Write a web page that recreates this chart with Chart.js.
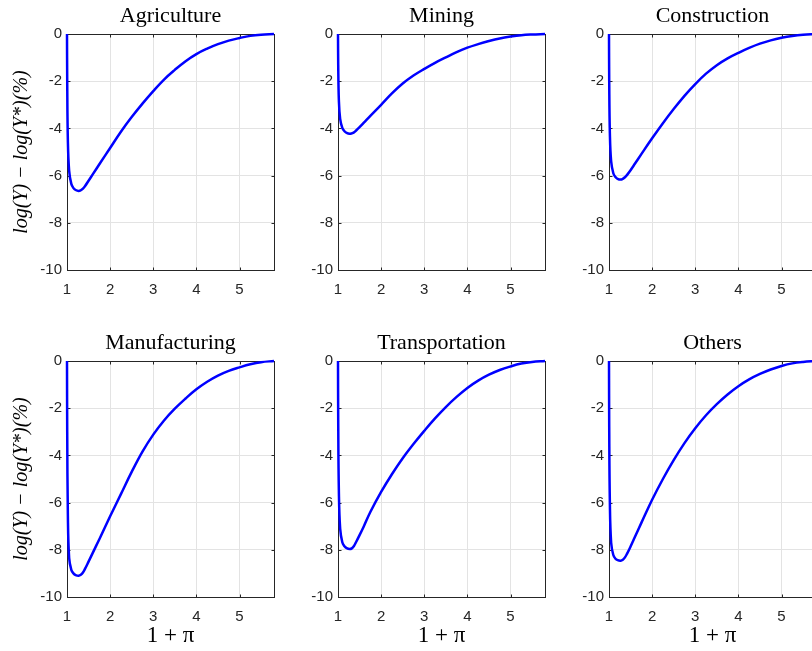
<!DOCTYPE html>
<html>
<head>
<meta charset="utf-8">
<script src="https://cdn.jsdelivr.net/npm/chart.js@4"></script>
<style>
  html, body { margin: 0; padding: 0; background: #fff; }
  body { width: 812px; height: 651px; position: relative; overflow: hidden; }
  canvas { position: absolute; }
</style>
</head>
<body>
<script>
// 1 + pi grid shared by every sector
const piGrid = [1.0, 1.005, 1.02, 1.05, 1.1, 1.15, 1.2, 1.27, 1.32, 1.37, 1.42, 1.5, 1.6, 1.75, 2.0, 2.25, 2.5, 2.75, 3.0, 3.25, 3.5, 3.75, 4.0, 4.25, 4.5, 4.75, 5.0, 5.25, 5.5, 5.8];

// output gap log(Y) - log(Y*) in percent, per sector
const agriculture    = [0, -2.0, -4.5, -5.8, -6.35, -6.53, -6.61, -6.65, -6.62, -6.55, -6.44, -6.22, -5.94, -5.52, -4.83, -4.14, -3.52, -2.95, -2.42, -1.93, -1.52, -1.15, -0.85, -0.62, -0.43, -0.28, -0.17, -0.08, -0.03, 0];
const mining         = [0, -1.3, -2.8, -3.6, -3.98, -4.12, -4.19, -4.23, -4.21, -4.17, -4.09, -3.95, -3.76, -3.47, -3.0, -2.52, -2.1, -1.76, -1.48, -1.22, -0.99, -0.77, -0.58, -0.43, -0.3, -0.19, -0.11, -0.05, -0.02, 0];
const construction   = [0, -2.0, -4.2, -5.4, -5.9, -6.06, -6.14, -6.17, -6.14, -6.07, -5.97, -5.77, -5.5, -5.09, -4.42, -3.78, -3.18, -2.62, -2.12, -1.68, -1.32, -1.03, -0.8, -0.59, -0.41, -0.27, -0.16, -0.08, -0.03, 0];
const manufacturing  = [0, -3.0, -6.5, -8.35, -8.85, -9.0, -9.07, -9.1, -9.06, -8.96, -8.8, -8.5, -8.12, -7.55, -6.58, -5.64, -4.7, -3.84, -3.12, -2.52, -2.02, -1.59, -1.2, -0.88, -0.62, -0.42, -0.27, -0.14, -0.05, 0];
const transportation = [0, -2.5, -5.5, -7.1, -7.68, -7.85, -7.93, -7.97, -7.94, -7.84, -7.67, -7.38, -7.0, -6.4, -5.55, -4.8, -4.12, -3.52, -2.96, -2.43, -1.95, -1.52, -1.14, -0.83, -0.58, -0.38, -0.23, -0.11, -0.04, 0];
const others         = [0, -2.8, -6.0, -7.7, -8.22, -8.38, -8.44, -8.46, -8.42, -8.32, -8.16, -7.86, -7.46, -6.86, -5.88, -5.0, -4.2, -3.48, -2.85, -2.3, -1.83, -1.42, -1.07, -0.78, -0.55, -0.36, -0.21, -0.1, -0.04, 0];

const sectorNames = ['Agriculture', 'Mining', 'Construction', 'Manufacturing', 'Transportation', 'Others'];
const sectorSeries = [agriculture, mining, construction, manufacturing, transportation, others];

const xTicks = [1, 2, 3, 4, 5];
const yTicks = [-10, -8, -6, -4, -2, 0];

const yLabel = 'log(Y) \u2212 log(Y*)(%)';
const xLabel = '1 + \u03c0';

// panel placement (canvas boxes)
const colLeft = [0, 271, 542];
const rowTop = [0, 327];
const W = 282, H = 326;

const axisColor = '#262626';
const tickFont = { family: '"Liberation Sans", Arial, sans-serif', size: 15 };

// box around the axes, inward tick marks and the panel title
const framePlugin = {
    id: 'frame',
    beforeDatasetsDraw(chart, args, opts) {
        const { ctx, chartArea: a, scales } = chart;
        const L = Math.round(a.left) + 0.5, R = Math.round(a.right) + 0.5;
        const T = Math.round(a.top) + 0.5, B = Math.round(a.bottom) + 0.5;
        ctx.save();
        ctx.strokeStyle = axisColor;
        ctx.lineWidth = 1;
        ctx.beginPath();
        scales.x.ticks.forEach(t => {
            const px = Math.round(scales.x.getPixelForValue(t.value)) + 0.5;
            ctx.moveTo(px, B); ctx.lineTo(px, B - 3);
            ctx.moveTo(px, T); ctx.lineTo(px, T + 3);
        });
        scales.y.ticks.forEach(t => {
            const py = Math.round(scales.y.getPixelForValue(t.value)) + 0.5;
            ctx.moveTo(L, py); ctx.lineTo(L + 3, py);
            ctx.moveTo(R, py); ctx.lineTo(R - 3, py);
        });
        ctx.stroke();
        ctx.strokeRect(L, T, R - L, B - T);

        ctx.fillStyle = '#000';
        ctx.font = '22px "Liberation Serif", serif';
        ctx.textAlign = 'center';
        ctx.textBaseline = 'alphabetic';
        ctx.fillText(opts.text, (a.left + a.right) / 2, a.top - 12);
        ctx.restore();
    }
};

sectorNames.forEach((name, i) => {
    const row = Math.floor(i / 3), col = i % 3;
    const canvas = document.createElement('canvas');
    canvas.width = W;
    canvas.height = H;
    canvas.style.left = colLeft[col] + 'px';
    canvas.style.top = rowTop[row] + 'px';
    document.body.appendChild(canvas);

    const points = piGrid.map((x, k) => ({ x: x, y: sectorSeries[i][k] }));

    new Chart(canvas.getContext('2d'), {
        type: 'line',
        data: {
            datasets: [{
                data: points,
                borderColor: '#0000ff',
                borderWidth: 2.5,
                pointRadius: 0,
                tension: 0.4,
                clip: false,
            }],
        },
        options: {
            responsive: false,
            animation: false,
            devicePixelRatio: 1,
            layout: { padding: { top: 34, right: 8, left: 0, bottom: 0 } },
            plugins: {
                legend: { display: false },
                tooltip: { enabled: false },
                frame: { text: name },
            },
            scales: {
                x: {
                    type: 'linear',
                    min: 1,
                    max: 5.8,
                    afterBuildTicks: s => { s.ticks = xTicks.map(v => ({ value: v })); },
                    afterFit: s => { s.height = 56; },
                    grid: { color: '#e3e3e3', drawTicks: false },
                    border: { display: false },
                    ticks: { color: axisColor, font: tickFont, padding: 11, maxRotation: 0 },
                    title: {
                        display: row === 1,
                        text: xLabel,
                        color: '#000',
                        font: { family: '"Liberation Serif", serif', size: 23 },
                        padding: { top: 0, bottom: 3 },
                    },
                },
                y: {
                    min: -10,
                    max: 0,
                    afterBuildTicks: s => { s.ticks = yTicks.map(v => ({ value: v })); },
                    afterFit: s => { s.width = 67; },
                    grid: { color: '#e3e3e3', drawTicks: false },
                    border: { display: false },
                    ticks: { color: axisColor, font: tickFont, padding: 5 },
                    title: {
                        display: col === 0,
                        text: yLabel,
                        color: '#000',
                        font: { family: '"Liberation Serif", serif', size: 20, style: 'italic' },
                        padding: { top: 10, bottom: 0 },
                    },
                },
            },
        },
        plugins: [framePlugin],
    });
});
</script>
</body>
</html>
